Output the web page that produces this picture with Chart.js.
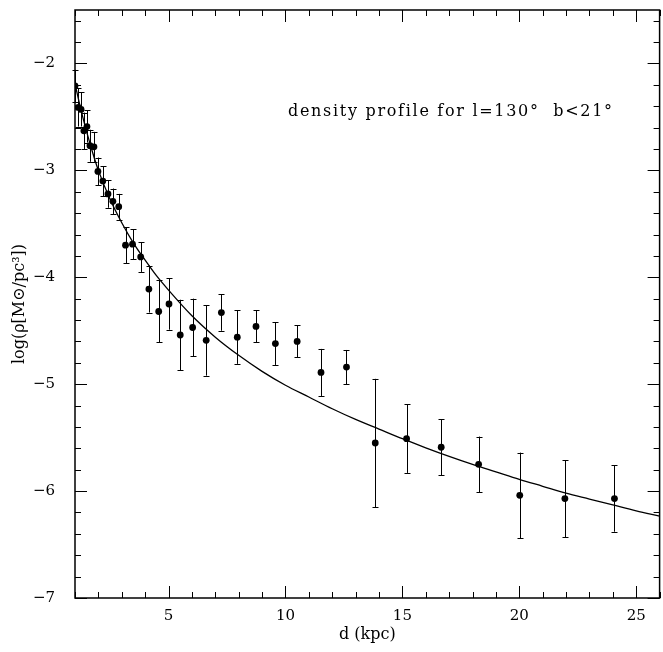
<!DOCTYPE html>
<html><head><meta charset="utf-8">
<script src="https://cdn.jsdelivr.net/npm/chart.js@4"></script>
<style>html,body{margin:0;padding:0;background:#fff}#wrap{width:663px;height:652px}</style>
</head><body><div id="wrap"><canvas id="c" width="663" height="652"></canvas></div>
<script>
// ---- data ----
const distKpc = [1.00,1.13,1.26,1.38,1.51,1.64,1.81,1.98,2.19,2.41,2.62,2.87,3.16,3.46,3.81,4.16,4.58,5.02,5.50,6.03,6.61,7.26,7.94,8.74,9.57,10.50,11.52,12.61,13.84,15.18,16.66,18.26,20.02,21.95,24.07];
const logRho = [-2.21,-2.41,-2.43,-2.63,-2.59,-2.77,-2.78,-3.01,-3.10,-3.22,-3.29,-3.34,-3.70,-3.69,-3.81,-4.11,-4.32,-4.25,-4.54,-4.47,-4.59,-4.33,-4.56,-4.46,-4.62,-4.60,-4.89,-4.84,-5.55,-5.51,-5.59,-5.75,-6.04,-6.07,-6.07];
const logRhoErr = [0.15,0.18,0.16,0.17,0.15,0.15,0.14,0.13,0.14,0.13,0.12,0.12,0.17,0.14,0.14,0.22,0.29,0.24,0.33,0.27,0.33,0.17,0.25,0.15,0.20,0.15,0.22,0.16,0.60,0.32,0.26,0.26,0.40,0.36,0.31];
const fitD = [1.0,1.25,1.5,1.75,2.0,2.5,3.0,3.5,4.0,4.5,5.0,6.0,7.0,8.0,9.0,10.0,11.0,12.0,13.0,14.0,15.0,16.0,17.0,18.0,19.0,20.0,21.0,22.0,23.0,24.0,25.0,26.0];
const fitLogRho = [-2.19,-2.43,-2.64,-2.83,-3.00,-3.27,-3.49,-3.68,-3.84,-3.99,-4.12,-4.36,-4.56,-4.73,-4.88,-5.01,-5.12,-5.23,-5.33,-5.42,-5.51,-5.595,-5.675,-5.75,-5.82,-5.89,-5.955,-6.02,-6.075,-6.13,-6.185,-6.235];
const xTickLabels = [5,10,15,20,25];
const yTickLabels = [-7,-6,-5,-4,-3,-2];
const xRange = [1,26];
const yRange = [-7,-1.5];
const xMinorStep = 1;
const yMinorStep = 0.2;
const annotationText = 'density profile for l=130°  b<21°';

const FONT = "'DejaVu Serif', serif";
const minus = v => String(v).replace('-', '\u2212');

const points = distKpc.map((d,i)=>({x:d, y:logRho[i]}));
const curve = fitD.map((d,i)=>({x:d, y:fitLogRho[i]}));

const decor = {
  id:'decor',
  beforeDatasetsDraw(chart){
    const ctx = chart.ctx, xs = chart.scales.x, ys = chart.scales.y;
    ctx.save();
    ctx.strokeStyle = '#000'; ctx.lineWidth = 1;
    distKpc.forEach((d,i)=>{
      const px = Math.round(xs.getPixelForValue(d)) + 0.5;
      const y1 = ys.getPixelForValue(logRho[i] + logRhoErr[i]);
      const y2 = ys.getPixelForValue(logRho[i] - logRhoErr[i]);
      ctx.beginPath();
      ctx.moveTo(px, y1); ctx.lineTo(px, y2);
      ctx.moveTo(px-3, Math.round(y1)+0.5); ctx.lineTo(px+3, Math.round(y1)+0.5);
      ctx.moveTo(px-3, Math.round(y2)+0.5); ctx.lineTo(px+3, Math.round(y2)+0.5);
      ctx.stroke();
    });
    ctx.restore();
  },
  afterDraw(chart){
    const ctx = chart.ctx, xs = chart.scales.x, ys = chart.scales.y;
    const {left, right, top, bottom} = chart.chartArea;
    ctx.save();
    ctx.strokeStyle = '#000'; ctx.lineWidth = 1;
    const eps = 1e-6;
    for (let v = xRange[0]; v <= xRange[1] + eps; v += xMinorStep) {
      const isMajor = xTickLabels.some(t => Math.abs(t - v) < eps);
      const len = isMajor ? 12 : 6;
      const px = Math.round(xs.getPixelForValue(v)) + 0.5;
      ctx.beginPath();
      ctx.moveTo(px, bottom); ctx.lineTo(px, bottom - len);
      ctx.moveTo(px, top); ctx.lineTo(px, top + len);
      ctx.stroke();
    }
    for (let k = 0; ; k++) {
      const v = yRange[0] + k * yMinorStep;
      if (v > yRange[1] + eps) break;
      const isMajor = yTickLabels.some(t => Math.abs(t - v) < eps);
      const len = isMajor ? 12 : 6;
      const py = Math.round(ys.getPixelForValue(v)) + 0.5;
      ctx.beginPath();
      ctx.moveTo(left, py); ctx.lineTo(left + len, py);
      ctx.moveTo(right, py); ctx.lineTo(right - len, py);
      ctx.stroke();
    }
    ctx.lineWidth = 1.5;
    ctx.strokeRect(left, top, right - left, bottom - top);
    ctx.fillStyle = '#000';
    ctx.font = "16px " + FONT;
    ctx.textBaseline = 'middle';
    ctx.textAlign = 'left';
    if ('letterSpacing' in ctx) ctx.letterSpacing = '1.7px';
    ctx.fillText(annotationText, left + 213, top + 102);
    ctx.restore();
  }
};

new Chart(document.getElementById('c'), {
  type: 'scatter',
  data: {
    datasets: [
      { label:'data', data: points, pointRadius: 3.4, pointHoverRadius: 3.4, backgroundColor:'#000', borderColor:'#000', pointBorderWidth:0, showLine:false, order:1 },
      { label:'fit', data: curve, type:'line', showLine:true, pointRadius:0, borderColor:'#000', borderWidth:1.3, fill:false, cubicInterpolationMode:'monotone', order:2 }
    ]
  },
  options: {
    responsive:false, animation:false, devicePixelRatio:1,
    layout:{ padding:{ top:10, right:1, left:0, bottom:0 } },
    plugins:{ legend:{display:false}, tooltip:{enabled:false} },
    scales:{
      x:{
        type:'linear', position:'bottom', min:xRange[0], max:xRange[1],
        grid:{ display:false, drawTicks:false, tickLength:0 },
        border:{ display:false },
        afterBuildTicks: s => { s.ticks = xTickLabels.map(v => ({value:v})); },
        afterFit: s => { s.height = 54; s.paddingLeft = 0; s.paddingRight = 0; },
        ticks:{ color:'#000', font:{family:FONT, size:15}, padding:9, maxRotation:0, autoSkip:false, callback: v => minus(v) },
        title:{ display:true, text:'d (kpc)', color:'#000', font:{family:FONT, size:16}, padding:{top:8,bottom:8} }
      },
      y:{
        type:'linear', position:'left', min:yRange[0], max:yRange[1],
        grid:{ display:false, drawTicks:false, tickLength:0 },
        border:{ display:false },
        afterBuildTicks: s => { s.ticks = yTickLabels.map(v => ({value:v})); },
        afterFit: s => { s.width = 75; s.paddingTop = 0; s.paddingBottom = 0; },
        ticks:{ color:'#000', font:{family:FONT, size:15}, padding:20, autoSkip:false, callback: v => minus(v) },
        title:{ display:true, text:'log(ρ[M⊙/pc³])', color:'#000', font:{family:FONT, size:16}, padding:{top:10,bottom:10} }
      }
    }
  },
  plugins:[decor]
});
</script>
</body></html>
